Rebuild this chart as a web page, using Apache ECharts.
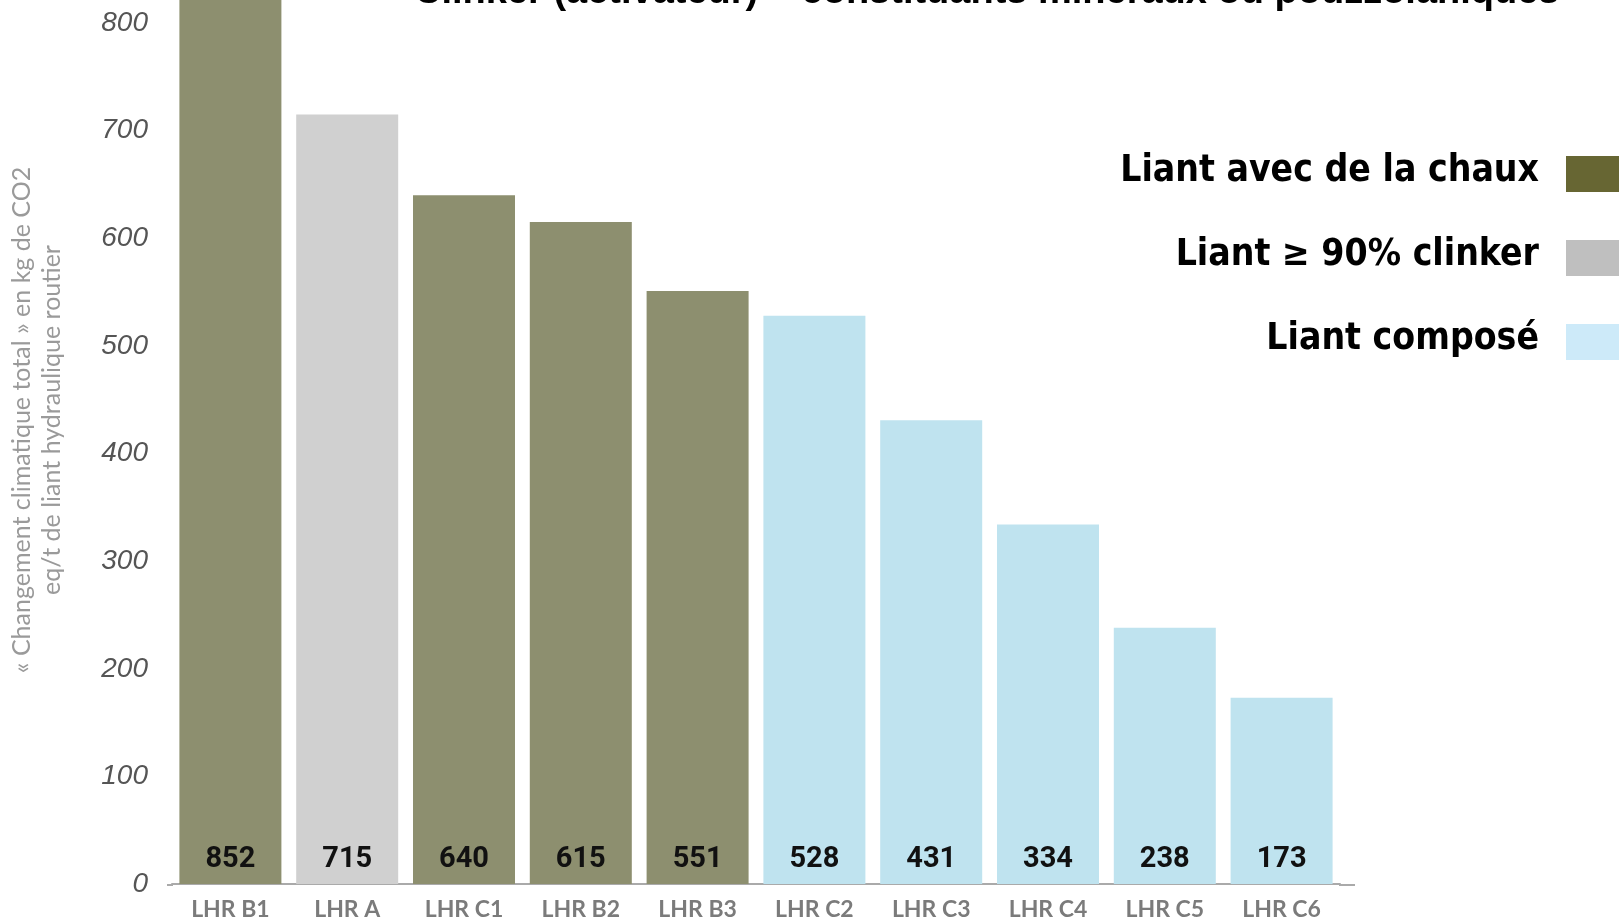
<!DOCTYPE html>
<html>
<head>
<meta charset="utf-8">
<script src="https://cdn.jsdelivr.net/npm/echarts@6/dist/echarts.min.js"></script>
<style>
html,body{margin:0;padding:0;background:#fff;}
#chart{width:1619px;height:921px;}
</style>
</head>
<body>
<div id="chart"></div>
<script>
const categories = ['LHR B1','LHR A','LHR C1','LHR B2','LHR B3','LHR C2','LHR C3','LHR C4','LHR C5','LHR C6'];
const values = [852,715,640,615,551,528,431,334,238,173];
const groups = ['chaux','clinker','chaux','chaux','chaux','compose','compose','compose','compose','compose'];
const groupBarColors = {chaux:'#8d8f6f', clinker:'#d0d0d0', compose:'#bfe3ef'};
const legendLabels = ['Liant avec de la chaux','Liant \u2265 90% clinker','Liant compos\u00e9'];
const legendColors = ['#676633','#bfbfbf','#cdeaf9'];
const yTicks = [0,100,200,300,400,500,600,700,800];
const titleText = 'Clinker (activateur) + constituants min\u00e9raux ou pouzzolaniques';
const yTitleLines = ['\u00ab Changement climatique total \u00bb en kg de CO2','eq/t de liant hydraulique routier'];

const chart = echarts.init(document.getElementById('chart'));

const legendGraphics = [];
legendLabels.forEach((t,i)=>{
  const cy = 175 + i*84;
  legendGraphics.push({
    type:'text', right:80, top:cy-22,
    style:{text:t, font:'bold 37px "DejaVu Sans Condensed", "DejaVu Sans"', fill:'#000', textAlign:'right'}
  });
  legendGraphics.push({
    type:'rect', shape:{x:1566,y:cy-19,width:60,height:36},
    style:{fill:legendColors[i]}
  });
});

chart.setOption({
  animation:false,
  grid:{left:172, right:279, top:23, bottom:36, containLabel:false},
  xAxis:{
    type:'category', data:categories,
    axisLine:{lineStyle:{color:'#aaaaaa', width:2}},
    axisTick:{show:false},
    axisLabel:{color:'#7b7b7b', fontWeight:'bold', fontSize:23, fontFamily:'Lato', margin:14}
  },
  yAxis:{
    type:'value', min:0, max:yTicks[yTicks.length-1], interval:100,
    axisLine:{show:false}, axisTick:{show:false}, splitLine:{show:false},
    axisLabel:{color:'#555', fontStyle:'italic', fontSize:28, fontFamily:'"Liberation Sans Narrow", "Liberation Sans"', margin:24}
  },
  series:[{
    type:'bar', barWidth:102, clip:false,
    data: values.map((v,i)=>({value:v, itemStyle:{color:groupBarColors[groups[i]]}})),
    label:{show:true, position:'insideBottom', distance:10, color:'#111', fontWeight:'bold', fontSize:29, fontFamily:'Roboto'}
  }],
  graphic:[
    {type:'text', left:414, top:-26, style:{text:titleText, font:'bold 38px "Liberation Sans"', fill:'#000'}},
    {type:'text', x:37, y:420, rotation:Math.PI/2,
      style:{text:yTitleLines.join('\n'), font:'25px Lato', fill:'#9a9a9a', textAlign:'center', textVerticalAlign:'middle', lineHeight:30}},
    {type:'line', shape:{x1:1339, y1:885, x2:1355, y2:885}, style:{stroke:'#aaaaaa', lineWidth:2}},
    {type:'line', shape:{x1:167, y1:885, x2:173, y2:885}, style:{stroke:'#aaaaaa', lineWidth:2}},
    ...legendGraphics
  ]
});
</script>
</body>
</html>
